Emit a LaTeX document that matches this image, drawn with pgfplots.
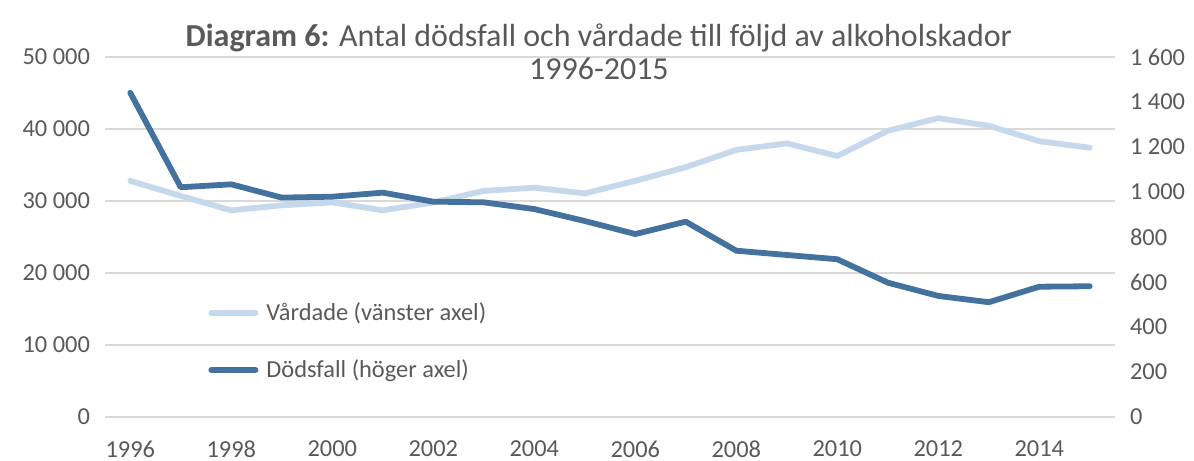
\documentclass[border=0pt]{standalone}
\usepackage{pgfplots}
\pgfplotsset{compat=1.18}
\usetikzlibrary{calc}
\usepackage{fontspec}
\setmainfont{Carlito}
\definecolor{txt}{HTML}{595959}
\definecolor{gridc}{HTML}{D9D9D9}
\definecolor{light}{HTML}{C5D8EC}
\definecolor{dark}{HTML}{44729F}

\pgfplotstableread{
year vardade
1996 32800
1997 30700
1998 28700
1999 29400
2000 29800
2001 28700
2002 29800
2003 31400
2004 31850
2005 31050
2006 32800
2007 34700
2008 37100
2009 38000
2010 36250
2011 39750
2012 41500
2013 40450
2014 38300
2015 37400
}\vardade

\pgfplotstableread{
year dod
1996 1441
1997 1021
1998 1034
1999 975
2000 979
2001 997
2002 957
2003 954
2004 924
2005 871
2006 813
2007 868
2008 739
2009 720
2010 701
2011 597
2012 538
2013 510
2014 579
2015 581
}\dodsfall

\begin{document}
\begin{tikzpicture}
\pgfplotsset{
  base/.style={
    scale only axis, width=505pt, height=180pt,
    xmin=1995.5, xmax=2015.5,
    axis line style={draw=none},
    major tick length=0pt,
    tick label style={font=\fontsize{12.2}{14}\selectfont, text=txt},
    /pgf/number format/assume math mode=true,
    /pgf/number format/1000 sep={\ },
    /pgf/number format/min exponent for 1000 sep=3,
  }
}
\begin{axis}[base,
  name=main,
  ymin=0, ymax=50000, ytick={0,10000,...,50000},
  scaled y ticks=false,
  xtick={1996,1998,...,2014},
  x tick label style={/pgf/number format/1000 sep={}},
  xticklabel style={yshift=-8.5pt},
  yticklabel style={xshift=-4pt},
  ymajorgrids, grid style={draw=gridc, line width=1.1pt},
  legend style={draw=none, fill=none, at={(0.102,0.33)}, anchor=north west,
    font=\fontsize{12.2}{14}\selectfont, text=txt, row sep=14pt, inner sep=0pt,
    legend cell align=left, nodes={inner xsep=4pt}},
  legend image code/.code={\draw[#1, line width=3pt, line cap=round] (0pt,0pt) -- (22pt,0pt);},
]
\addplot[light, line width=2.9pt, line join=round, line cap=round] table[x=year, y=vardade] {\vardade};
\addlegendentry{Vårdade (vänster axel)}
\addlegendimage{dark}
\addlegendentry{Dödsfall (höger axel)}
\end{axis}
\begin{axis}[base,
  ymin=0, ymax=1600, ytick={0,200,...,1600},
  axis y line*=right,
  xtick=\empty,
  yticklabel style={xshift=4pt},
]
\addplot[dark, line width=2.9pt, line join=round, line cap=round] table[x=year, y=dod] {\dodsfall};
\end{axis}
\node[align=center, text=txt, font=\fontsize{16}{16.5}\selectfont]
  at ($(main.north west)!0.489!(main.north east)+(0,2.5pt)$)
  {\textbf{Diagram 6:} Antal dödsfall och vårdade till följd av alkoholskador\\1996-2015};
\pgfresetboundingbox
\useasboundingbox ($(main.south west)+(-52.5pt,-22pt)$) rectangle ($(main.north east)+(39.5pt,28.5pt)$);
\end{tikzpicture}
\end{document}
